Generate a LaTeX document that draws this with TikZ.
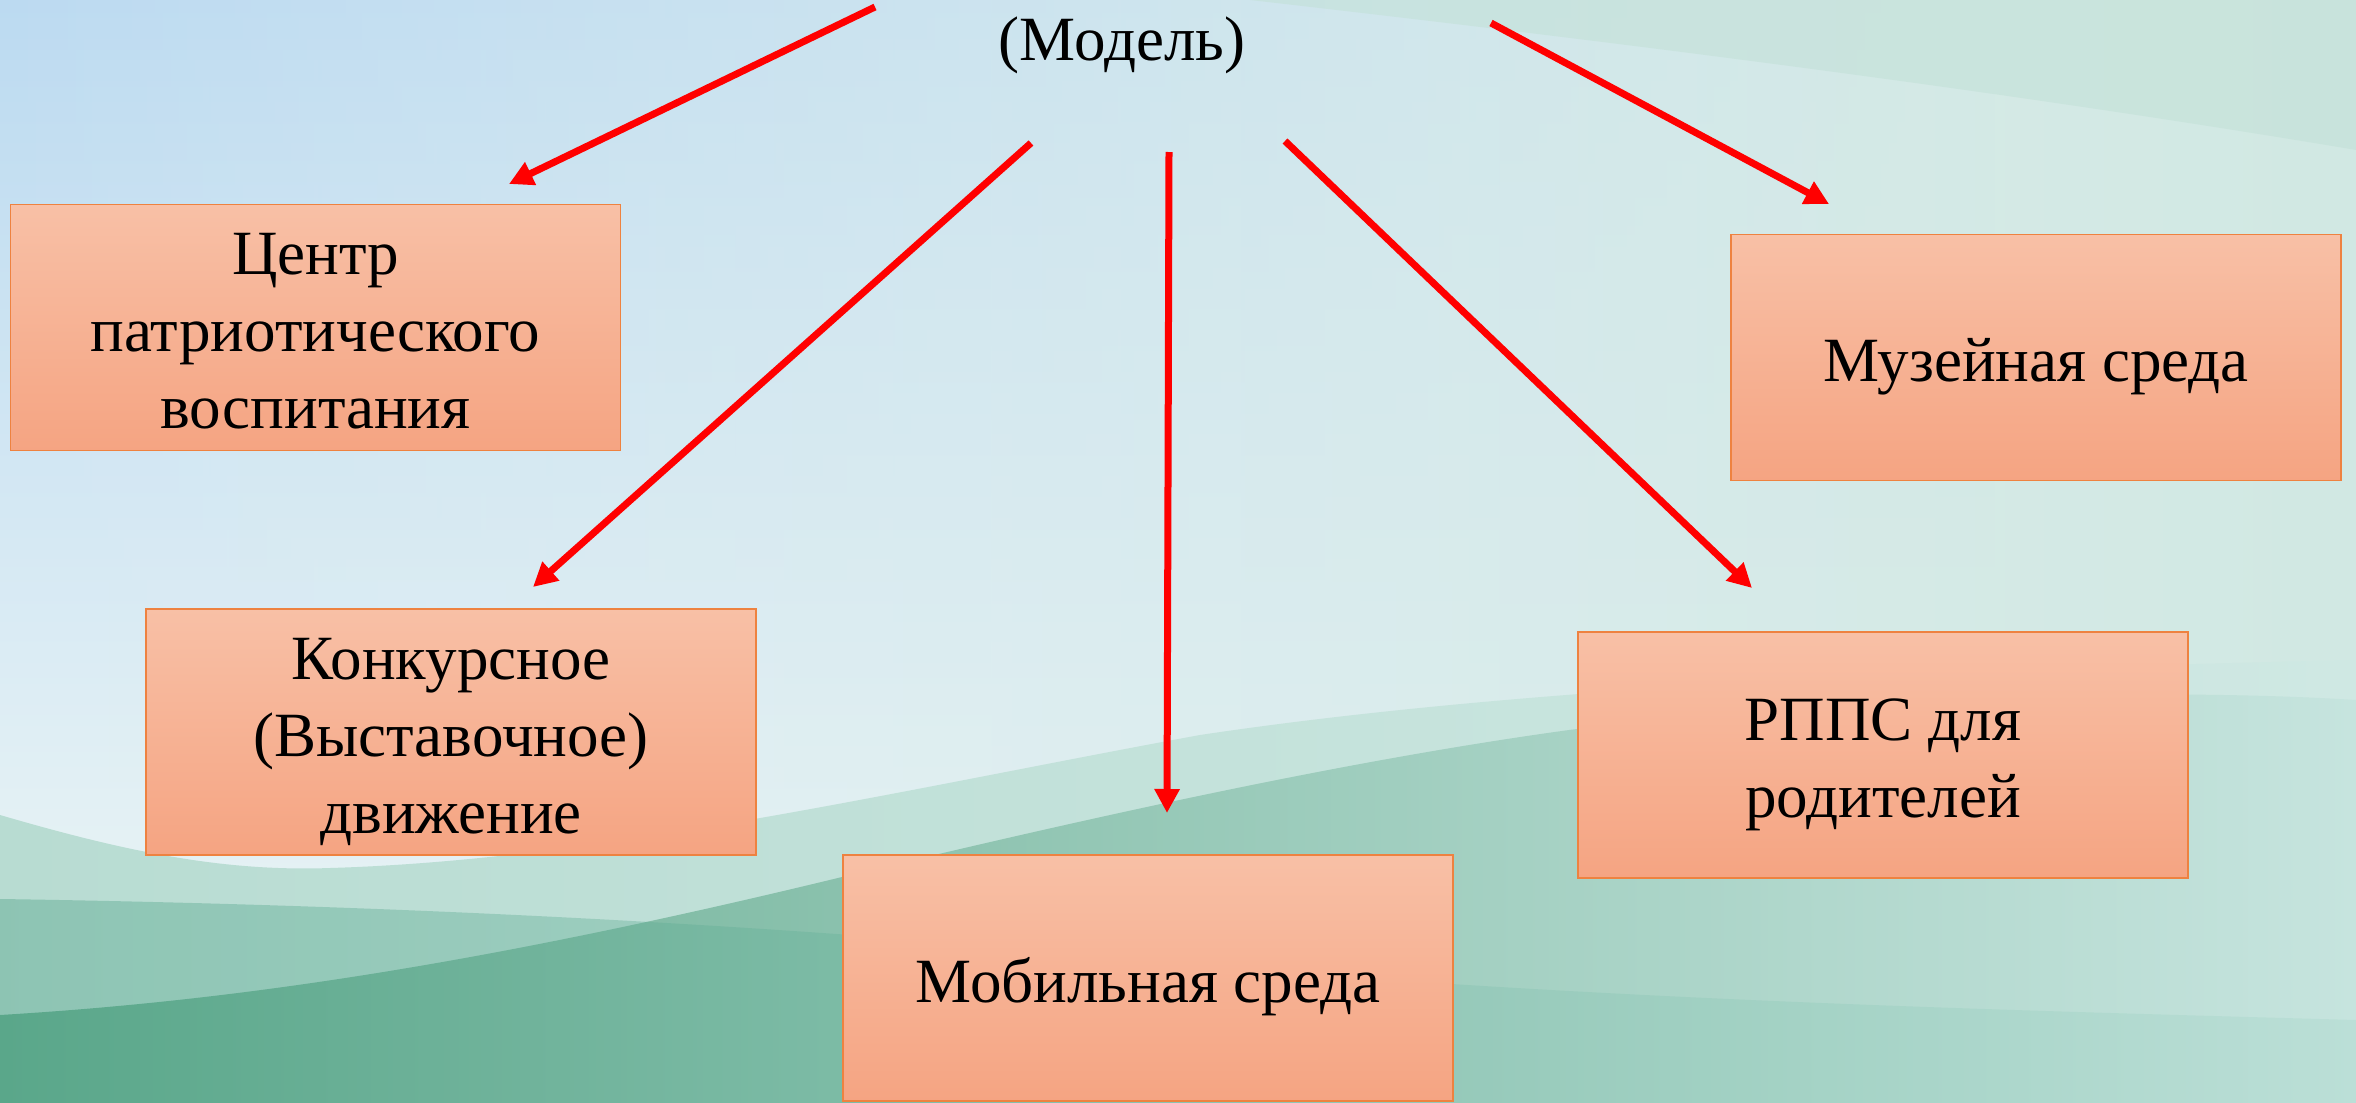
\documentclass[tikz,border=0pt]{standalone}
\usepackage{fontspec}
\setmainfont{Liberation Serif}
\usetikzlibrary{arrows.meta,fadings}
\definecolor{bgtl}{HTML}{B6D7F0}
\definecolor{bgpale}{HTML}{E6F2F5}
\definecolor{bgright}{HTML}{D0E8E2}
\definecolor{bandtr}{HTML}{C3E1D8}
\definecolor{waveAl}{HTML}{B8DCD2}
\definecolor{waveAr}{HTML}{CFE8E3}
\definecolor{waveCl}{HTML}{69AE92}
\definecolor{waveCm}{HTML}{ACD6CA}
\definecolor{waveCr}{HTML}{C6E4DE}
\definecolor{waveBl}{HTML}{3F9A7C}
\definecolor{waveBr}{HTML}{A8D8CC}
\definecolor{boxtop}{HTML}{F8C0A6}
\definecolor{boxbot}{HTML}{F5A482}
\definecolor{boxline}{HTML}{EE8240}
\newcommand\bxT{\rule{0pt}{63pt}}
\newcommand\bxB{\rule[-15pt]{0pt}{15pt}}
\begin{document}
\begin{tikzpicture}[x=1pt,y=-1pt,
  box/.style={draw=boxline, line width=1.6pt, top color=boxtop, bottom color=boxbot,
    minimum width=610pt, minimum height=246pt, align=center, inner sep=0pt,
    font=\fontsize{63}{77}\selectfont, text=black},
  arr/.style={draw=red, line width=7pt, -{Triangle[length=24pt,width=24pt]}}]
\useasboundingbox (0,0) rectangle (2356,1103);
\begin{scope}
\clip (0,0) rectangle (2356,1103);
% base background
\fill[bgpale] (-20,-20) rectangle (2376,1123);
\fill[bgright, path fading=west] (-20,-20) rectangle (2500,1123);
\shade[top color=bgtl, bottom color=bgpale, path fading=east] (-20,-120) rectangle (2000,880);
% top-right band
\fill[bandtr, opacity=0.6] (1250,0) .. controls (1600,40) and (2000,90) .. (2356,150) -- (2356,0) -- cycle;
% wave A
\shade[left color=waveAl, right color=waveAr]
  (0,815) .. controls (120,850) and (220,872) .. (330,868)
  .. controls (600,860) and (900,790) .. (1200,735)
  .. controls (1500,690) and (1900,670) .. (2356,660)
  -- (2356,1103) -- (0,1103) -- cycle;
% wave C
\shade[left color=waveCl, middle color=waveCm, right color=waveCr]
  (0,1015) .. controls (250,1000) and (500,960) .. (842,877)
  .. controls (1100,815) and (1350,760) .. (1569,730)
  .. controls (1900,690) and (2200,690) .. (2356,700)
  -- (2356,1103) -- (0,1103) -- cycle;
% wave B overlay
\shade[left color=waveBl, right color=waveBr, fill opacity=0.35]
  (0,899) .. controls (400,905) and (800,925) .. (1200,965)
  .. controls (1600,1000) and (2000,1010) .. (2356,1020)
  -- (2356,1103) -- (0,1103) -- cycle;
\end{scope}

% title
\node[font=\fontsize{63}{77}\selectfont] (model) at (1122,45) {(Модель)};

% boxes
\node[box] (centr) at (315.5,327.5) {\bxT Центр\\патриотического\\воспитания\bxB};
\node[box] (konk) at (451,732) {\bxT Конкурсное\\(Выставочное)\\движение\bxB};
\node[box] (mob) at (1148,978) {\bxT Мобильная среда\bxB};
\node[box] (rpps) at (1883,755) {\bxT РППС для\\родителей\bxB};
\node[box] (muz) at (2036,357.5) {\bxT Музейная среда\bxB};

% arrow endpoints
\coordinate (s1) at (875,7);
\coordinate (e1) at (509,184);
\coordinate (s2) at (1031,143);
\coordinate (e2) at (533,587);
\coordinate (s3) at (1169,152);
\coordinate (e3) at (1167,813);
\coordinate (s4) at (1285,141);
\coordinate (e4) at (1752,588);
\coordinate (s5) at (1491,23);
\coordinate (e5) at (1829,204);

\draw[arr] (s1) -- (e1);
\draw[arr] (s2) -- (e2);
\draw[arr] (s3) -- (e3);
\draw[arr] (s4) -- (e4);
\draw[arr] (s5) -- (e5);
\end{tikzpicture}
\end{document}
